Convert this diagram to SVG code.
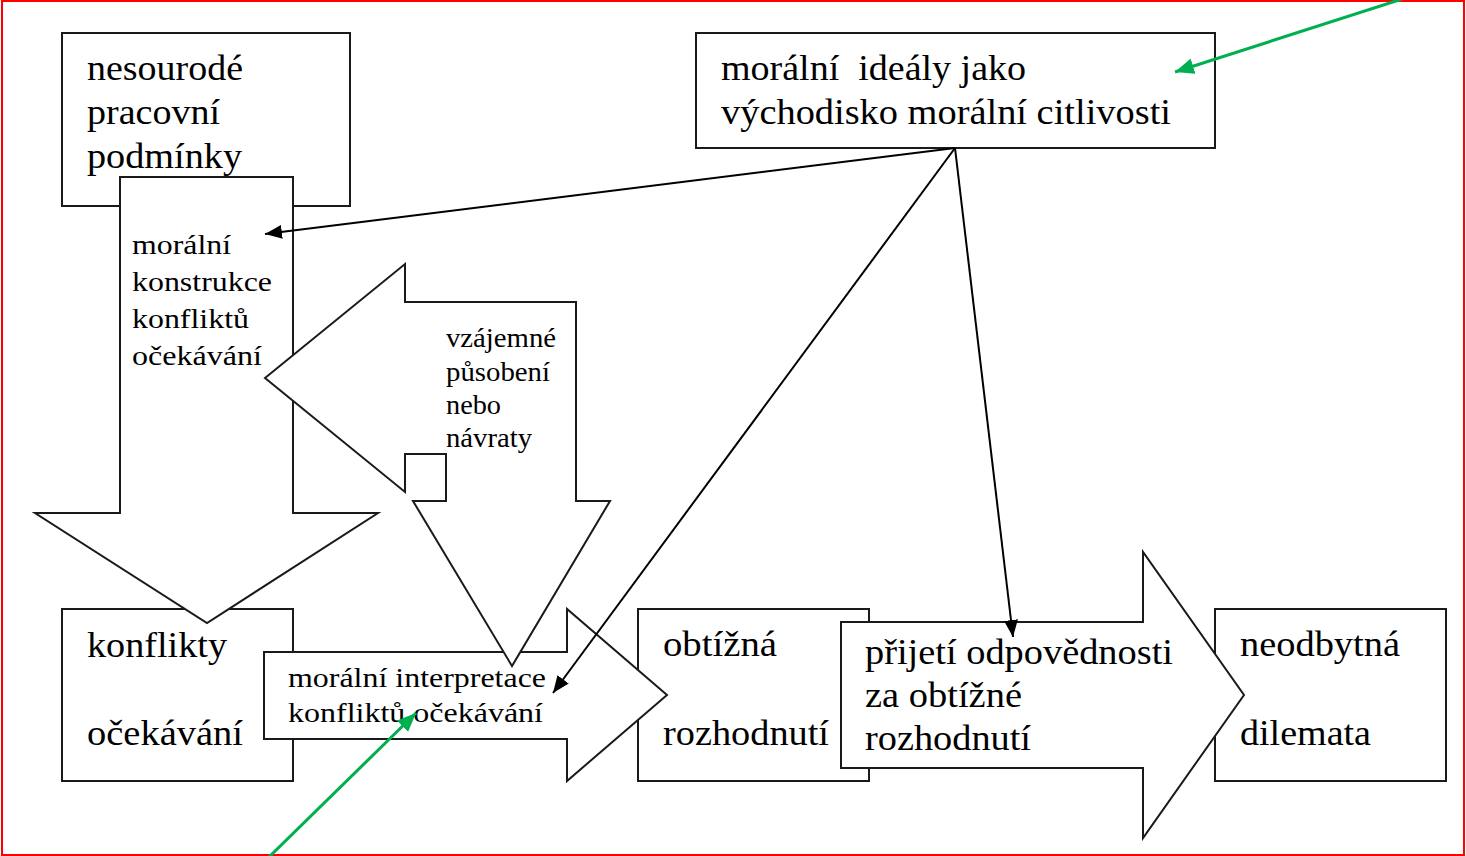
<svg xmlns="http://www.w3.org/2000/svg" width="1466" height="856" viewBox="0 0 1466 856">
<style>
.s{fill:#fff;stroke:#1a1a1a;stroke-width:2;stroke-linejoin:miter}
.t{font-family:"Liberation Serif","Times New Roman",serif;fill:#000;white-space:pre}
.L{font-size:35px}
.M{font-size:27px}
.c{fill:none;stroke:#000;stroke-width:2}
.g{fill:none;stroke:#00b050;stroke-width:3}
</style>
<defs>
<marker id="ah" markerUnits="userSpaceOnUse" markerWidth="18" markerHeight="14" refX="17" refY="7" orient="auto">
<path d="M0,0 L17,7 L0,14 z" fill="#000"/>
</marker>
<marker id="gh" markerUnits="userSpaceOnUse" markerWidth="20" markerHeight="16" refX="19" refY="8" orient="auto">
<path d="M0,0 L19,8 L0,16 z" fill="#00b050"/>
</marker>
</defs>
<rect x="2" y="1" width="1462" height="854" fill="#fff" stroke="#ff0000" stroke-width="2"/>

<g id="box-nesourode">
<rect class="s" x="62" y="33" width="288" height="173"/>
<text class="t L" x="87" y="80" textLength="156" lengthAdjust="spacingAndGlyphs">nesourodé</text>
<text class="t L" x="87" y="124" textLength="133" lengthAdjust="spacingAndGlyphs">pracovní</text>
<text class="t L" x="87" y="168" textLength="155" lengthAdjust="spacingAndGlyphs">podmínky</text>
</g>

<g id="box-konflikty">
<rect class="s" x="62" y="609" width="231" height="172"/>
<text class="t L" x="87" y="657" textLength="140" lengthAdjust="spacingAndGlyphs">konflikty</text>
<text class="t L" x="87" y="745" textLength="156" lengthAdjust="spacingAndGlyphs">očekávání</text>
</g>

<g id="box-obtizna">
<rect class="s" x="638" y="609" width="231" height="172"/>
<text class="t L" x="663" y="656" textLength="114" lengthAdjust="spacingAndGlyphs">obtížná</text>
<text class="t L" x="663" y="745" textLength="166" lengthAdjust="spacingAndGlyphs">rozhodnutí</text>
</g>

<g id="box-neodbytna">
<rect class="s" x="1215" y="609" width="231" height="172"/>
<text class="t L" x="1240" y="656" textLength="160" lengthAdjust="spacingAndGlyphs">neodbytná</text>
<text class="t L" x="1240" y="745" textLength="131" lengthAdjust="spacingAndGlyphs">dilemata</text>
</g>

<g id="arrow-konstrukce">
<polygon class="s" points="120,177 293,177 293,513 378,513 207,623 35,513 120,513"/>
<text class="t M" x="132" y="254" textLength="99" lengthAdjust="spacingAndGlyphs">morální</text>
<text class="t M" x="132" y="291" textLength="140" lengthAdjust="spacingAndGlyphs">konstrukce</text>
<text class="t M" x="132" y="328" textLength="117" lengthAdjust="spacingAndGlyphs">konfliktů</text>
<text class="t M" x="132" y="365" textLength="130" lengthAdjust="spacingAndGlyphs">očekávání</text>
</g>

<g id="arrow-interpretace">
<polygon class="s" points="264,652 567,652 567,609 667,695 567,781 567,739 264,739"/>
<text class="t M" x="288" y="687" textLength="258" lengthAdjust="spacingAndGlyphs">morální interpretace</text>
<text class="t M" x="288" y="722" textLength="255" lengthAdjust="spacingAndGlyphs">konfliktů očekávání</text>
</g>

<g id="arrow-vzajemne">
<polygon class="s" points="265,378 405,264 405,302 576,302 576,501 610,501 512,666 413,501 446,501 446,454 405,454 405,492"/>
<text class="t M" x="446" y="347" textLength="110" lengthAdjust="spacingAndGlyphs">vzájemné</text>
<text class="t M" x="446" y="381" textLength="104" lengthAdjust="spacingAndGlyphs">působení</text>
<text class="t M" x="446" y="414" textLength="55" lengthAdjust="spacingAndGlyphs">nebo</text>
<text class="t M" x="446" y="447" textLength="86" lengthAdjust="spacingAndGlyphs">návraty</text>
</g>

<g id="arrow-prijeti">
<polygon class="s" points="841,622 1143,622 1143,552 1244,695 1143,838 1143,768 841,768"/>
<text class="t L" x="865" y="664" textLength="308" lengthAdjust="spacingAndGlyphs">přijetí odpovědnosti</text>
<text class="t L" x="865" y="707" textLength="157" lengthAdjust="spacingAndGlyphs">za obtížné</text>
<text class="t L" x="865" y="750" textLength="166" lengthAdjust="spacingAndGlyphs">rozhodnutí</text>
</g>

<g id="box-idealy">
<rect class="s" x="696" y="33" width="519" height="115"/>
<text class="t L" x="721" y="80" textLength="305" lengthAdjust="spacingAndGlyphs" xml:space="preserve">morální  ideály jako</text>
<text class="t L" x="721" y="124" textLength="450" lengthAdjust="spacingAndGlyphs">východisko morální citlivosti</text>
</g>

<g id="connectors">
<line class="c" x1="955" y1="148" x2="265" y2="234" marker-end="url(#ah)"/>
<line class="c" x1="955" y1="148" x2="553" y2="693" marker-end="url(#ah)"/>
<line class="c" x1="955" y1="148" x2="1013" y2="637" marker-end="url(#ah)"/>
<line class="g" x1="1402" y1="-1" x2="1175" y2="72" marker-end="url(#gh)"/>
<line class="g" x1="268" y1="858" x2="416" y2="713" marker-end="url(#gh)"/>
</g>
</svg>
